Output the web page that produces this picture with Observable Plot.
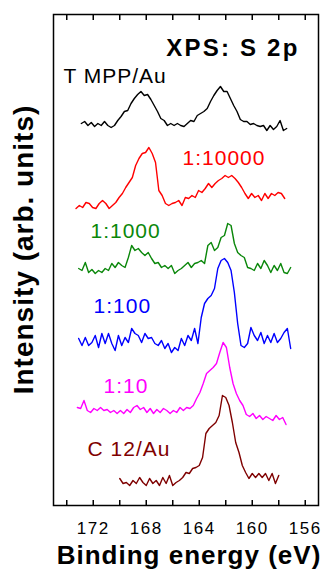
<!DOCTYPE html>
<html>
<head>
<meta charset="utf-8">
<script src="https://cdn.jsdelivr.net/npm/d3@7"></script>
<script src="https://cdn.jsdelivr.net/npm/@observablehq/plot@0.6"></script>
<style>
  body { margin: 0; background: #fff; }
</style>
</head>
<body>
<div id="chart"></div>
<script>
// S 2p XPS spectra, stacked from the pure TMPP monolayer down to the C12 thiol reference
const sampleNames  = ["T MPP/Au", "1:10000", "1:1000", "1:100", "1:10", "C 12/Au"];
const sampleColors = ["#000000", "#ff0000", "#0a870a", "#0000ff", "#ff00ff", "#7f0000"];

// binding energy of the first channel of each scan (eV) and the channel width
const firstEnergy = [172.9, 173.3, 173.1, 173.1, 173.2, 170.0];
const energyStep = 0.25;

// vertical stacking offset of each spectrum (arb. units)
const stackOffset = [381, 302, 235, 165, 95, 23];

// intensities (arb. units above each spectrum's own baseline)
const tmppAu = [1,3,-1,2,-2,1,-1,3,-1,-3,-1,4,8,13,14,21,26,30,33,29,30,25,19,13,6,4,-1,1,-1,1,-1,-2,1,4,3,9,11,13,16,23,29,34,38,33,33,26,19,13,5,3,3,0,1,-1,-2,-1,-6,-1,-5,-2,4,-6,-4];
const mix10000 = [-5,-2,-4,1,0,-4,-5,0,3,0,-5,-2,1,6,10,16,21,26,38,45,50,51,56,50,41,13,8,0,-2,0,1,3,-2,6,5,8,6,13,11,15,20,16,20,23,25,28,26,28,25,21,16,10,5,10,6,8,3,10,5,10,8,11,10,5];
const mix1000 = [2,0,8,-2,1,-3,0,-2,2,0,7,3,8,5,3,13,25,20,22,18,15,18,12,7,8,3,5,2,5,-3,0,2,5,8,3,7,8,10,7,25,28,20,23,33,35,47,45,27,18,15,13,3,2,0,7,2,10,5,-2,5,0,7,-2,-3,3];
const mix100 = [2,-5,3,-5,-2,5,-7,7,-3,7,-3,-10,5,-5,3,-2,12,7,5,-2,7,2,3,-3,-5,0,-8,-3,-12,-7,-10,2,-5,5,0,12,-3,23,37,42,45,52,72,80,82,78,70,48,17,-5,-7,-3,13,5,0,8,-3,5,-2,7,-2,2,8,12,-8];
const mix10 = [3,2,10,0,-2,2,0,3,0,1,-2,0,-3,0,-3,1,-2,3,5,1,3,-2,2,-3,1,-2,2,0,-3,0,-2,3,0,3,2,5,12,18,27,37,40,43,47,58,68,63,43,27,17,10,5,-4,-6,-3,-8,-5,-9,-6,-8,-10,-5,-9,-7,-14];
const c12Au = [4,-1,0,-3,2,-1,5,0,-3,4,-1,2,-3,5,-1,7,-3,0,2,5,10,9,14,15,17,25,49,54,57,60,67,87,85,77,60,40,30,17,10,4,9,5,9,5,9,2,9,-1,7];

// axis ticks (eV)
const minorTicks = [174, 172, 170, 168, 166, 164, 162, 160, 158, 156];
const tickLabels = [172, 168, 164, 160, 156];

// where each sample name sits: energy of its first letter, height above the baseline
const labelEnergy = [174.25, 165.26, 172.21, 171.98, 171.23, 172.43];
const labelLift   = [48, 45.5, 39.3, 34.3, 24.3, 33];

const titleText = "XPS: S 2p";
const xTitle = "Binding energy (eV)";
const yTitle = "Intensity (arb. units)";

const spectra = [tmppAu, mix10000, mix1000, mix100, mix10, c12Au];

const rows = spectra.flatMap((values, k) =>
  values.map((v, i) => ({
    sample: sampleNames[k],
    energy: firstEnergy[k] - energyStep * i,
    intensity: v + stackOffset[k]
  }))
);

const labels = sampleNames.map((name, k) => ({
  sample: name,
  energy: labelEnergy[k],
  level: stackOffset[k] + labelLift[k]
}));

const chart = Plot.plot({
  width: 322,
  height: 572,
  marginLeft: 53,
  marginRight: 4,
  marginTop: 14,
  marginBottom: 67,
  style: {fontFamily: "'Liberation Sans', Arial, sans-serif", background: "#fff", color: "#000"},
  x: {domain: [175, 155]},
  y: {domain: [0, 491], axis: null},
  color: {domain: sampleNames, range: sampleColors},
  marks: [
    Plot.axisX({anchor: "bottom", ticks: minorTicks, tickSize: -5, tickFormat: () => "", label: null, strokeWidth: 1.5}),
    Plot.axisX({anchor: "top", ticks: minorTicks, tickSize: -5, tickFormat: () => "", label: null, strokeWidth: 1.5}),
    Plot.axisX({anchor: "bottom", ticks: tickLabels, tickSize: 0, tickPadding: 16, fontSize: 17, label: null}),
    Plot.line(rows, {x: "energy", y: "intensity", z: "sample", stroke: "sample", strokeWidth: 1.4}),
    Plot.text(labels, {x: "energy", y: "level", text: "sample", fill: "sample", textAnchor: "start", lineAnchor: "middle", fontSize: 21}),
    Plot.text([titleText], {frameAnchor: "top-right", textAnchor: "end", lineAnchor: "middle", dx: -19, dy: 33.5, fontSize: 24, fontWeight: "bold"}),
    Plot.text([xTitle], {frameAnchor: "bottom", textAnchor: "middle", lineAnchor: "middle", dx: 3, dy: 50, fontSize: 26, fontWeight: "bold"}),
    Plot.text([yTitle], {frameAnchor: "left", textAnchor: "middle", rotate: -90, lineAnchor: "middle", dx: -29, dy: -10.5, fontSize: 28, fontWeight: "bold"}),
    Plot.frame({stroke: "#000", strokeWidth: 1.5})
  ]
});

// letter spacing of the printed labels
const spacing = new Map([[titleText, "2.2px"], [xTitle, "1px"], [yTitle, "1px"]]);
sampleNames.forEach(name => spacing.set(name, "1px"));
tickLabels.forEach(t => spacing.set(String(t), "1.5px"));
chart.querySelectorAll("text").forEach(t => {
  const s = spacing.get(t.textContent);
  if (s) t.setAttribute("letter-spacing", s);
});

document.getElementById("chart").append(chart);
</script>
</body>
</html>
